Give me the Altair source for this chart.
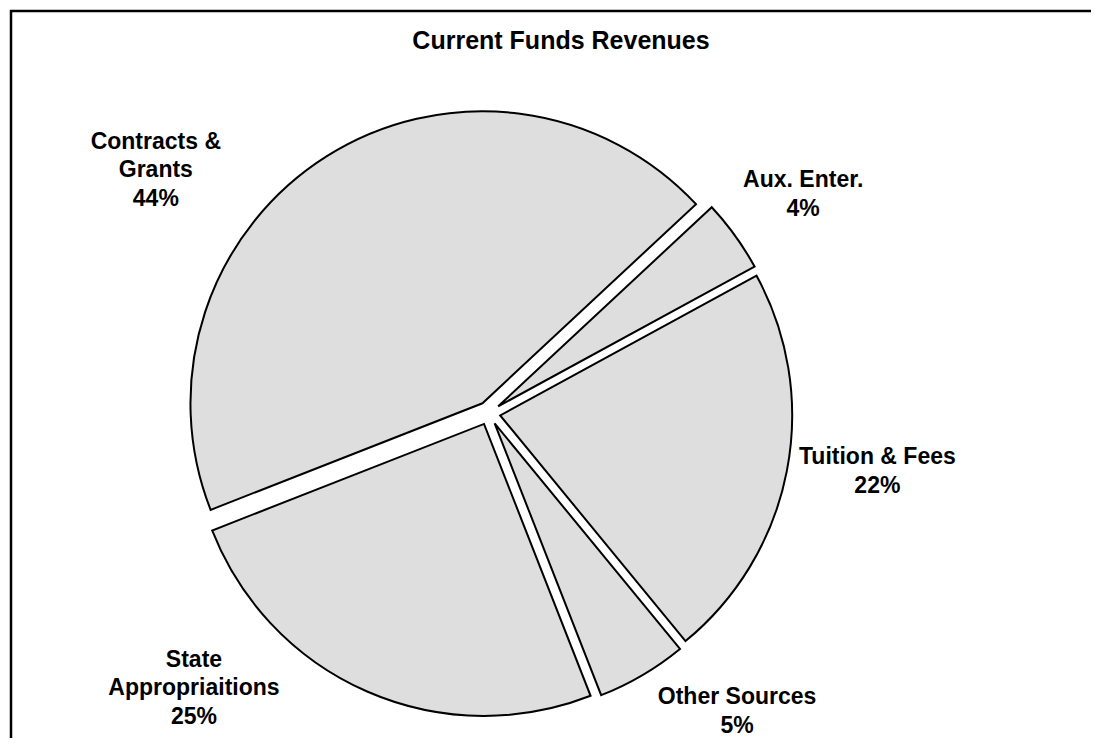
import altair as alt
import pandas as pd

# ---- data ----
categories = ["Aux. Enter.", "Tuition & Fees", "Other Sources",
              "State Appropriaitions", "Contracts & Grants"]
label_lines = ["Aux. Enter.", "Tuition & Fees", "Other Sources",
               "State\nAppropriaitions", "Contracts &\nGrants"]
values = [4, 22, 5, 25, 44]
title_text = "Current Funds Revenues"

# ---- layout / style ----
W, H = 1083, 730
START_DEG = 47.0          # angle where the first slice starts (clockwise from 12 o'clock)
CX, CY = 478.7, 403.2     # pie centre in chart pixels
RADIUS = 292
EXPLODE = 11.7
LINE_H = 28.5
label_shift_deg = [1.0, -2.5, -9.4, 23.4, -21.7]   # label placement nudges (hand-placed labels)
label_radius = [383, 393, 388, 403, 412]
FONT = "Liberation Sans"
FILL = "#dedede"

df = pd.DataFrame({
    "category": categories,
    "label": label_lines,
    "value": values,
    "order": list(range(len(categories))),
    "shift": label_shift_deg,
    "lr": label_radius,
})

start = f"({START_DEG}*PI/180)"
base = (
    alt.Chart(df)
    .transform_joinaggregate(total="sum(value)")
    .transform_window(cum="sum(value)", sort=[alt.SortField("order", order="ascending")],
                      frame=[None, 0])
    .transform_calculate(a0=f"{start} + 2*PI*(datum.cum - datum.value)/datum.total")
    .transform_calculate(a1=f"{start} + 2*PI*datum.cum/datum.total")
    .transform_calculate(mid="(datum.a0 + datum.a1)/2")
    .transform_calculate(cx=f"{CX} + {EXPLODE}*sin(datum.mid)")
    .transform_calculate(cy=f"{CY} - {EXPLODE}*cos(datum.mid)")
    .transform_calculate(txt="datum.label + '\\n' + datum.value + '%'")
    .transform_calculate(nl="length(split(datum.txt, '\\n'))")
    .transform_calculate(la="datum.mid + datum.shift*PI/180")
    .transform_calculate(lx=f"{CX} + datum.lr*sin(datum.la)")
    .transform_calculate(ly=f"{CY} - datum.lr*cos(datum.la) - (datum.nl - 1)*{LINE_H}/2")
)

pie = base.mark_arc(radius=RADIUS, fill=FILL, stroke="black", strokeWidth=2).encode(
    theta=alt.Theta("a0:Q", scale=None, stack=False),
    theta2="a1:Q",
    x=alt.X("cx:Q", scale=None, axis=None),
    y=alt.Y("cy:Q", scale=None, axis=None),
)

labels = base.mark_text(font=FONT, fontWeight="bold", fontSize=23, lineBreak="\n",
                        lineHeight=LINE_H, align="center", baseline="middle",
                        color="black").encode(
    x=alt.X("lx:Q", scale=None, axis=None),
    y=alt.Y("ly:Q", scale=None, axis=None),
    text="txt:N",
)

one = pd.DataFrame({"t": [title_text]})
title = alt.Chart(one).mark_text(font=FONT, fontWeight="bold", fontSize=25,
                                 align="center", baseline="middle", color="black").encode(
    x=alt.value(551), y=alt.value(31), text="t:N")

border_top = alt.Chart(one).mark_rule(color="black", strokeWidth=2.5).encode(
    x=alt.value(0), x2=alt.value(W), y=alt.value(1))
border_left = alt.Chart(one).mark_rule(color="black", strokeWidth=2.5).encode(
    x=alt.value(1), y=alt.value(0), y2=alt.value(H))

chart = (
    alt.layer(pie, labels, title, border_top, border_left)
    .properties(width=W, height=H, padding=0,
                autosize=alt.AutoSizeParams(type="fit", contains="padding"),
                background="white")
    .configure_view(stroke="transparent", strokeWidth=0)
)

chart.save("out.html", embed_options={"renderer": "svg", "actions": False})
